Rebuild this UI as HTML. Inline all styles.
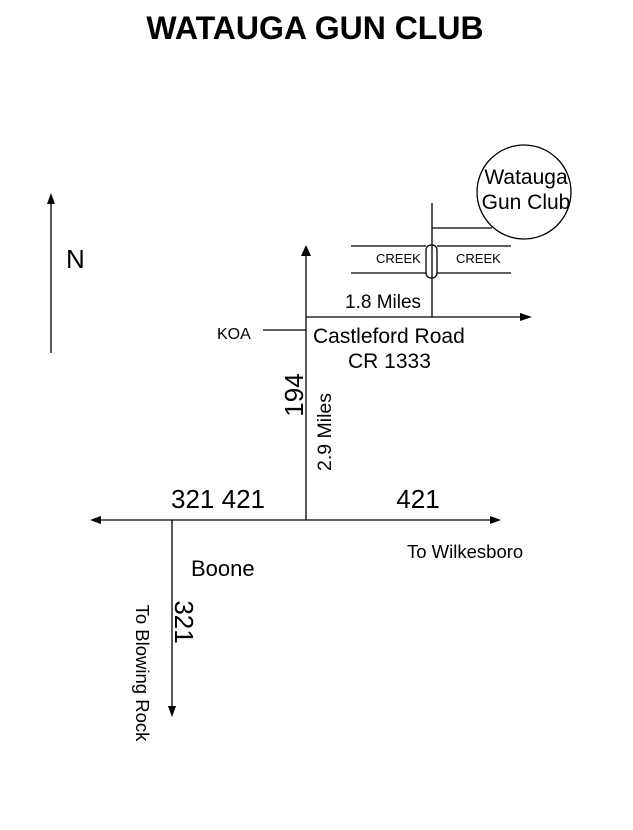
<!DOCTYPE html>
<html><head><style>html,body{margin:0;padding:0;background:#fff}</style></head><body>
<svg width="633" height="825" viewBox="0 0 633 825" xmlns="http://www.w3.org/2000/svg" font-family="Liberation Sans, Arial, sans-serif">
<rect width="633" height="825" fill="#fff"/>
<text x="315" y="39" font-size="32" font-weight="bold" text-anchor="middle">WATAUGA GUN CLUB</text>
<g stroke="#000" stroke-width="1.3" fill="none">
<line x1="51" y1="353" x2="51" y2="200"/>
<line x1="96" y1="520" x2="494" y2="520"/>
<line x1="306" y1="520" x2="306" y2="252"/>
<line x1="306" y1="317" x2="524" y2="317"/>
<line x1="263" y1="330" x2="306" y2="330"/>
<line x1="172" y1="520" x2="172" y2="710"/>
<line x1="432" y1="203" x2="432" y2="317"/>
<line x1="432" y1="228" x2="492" y2="228"/>
<line x1="351" y1="246" x2="426" y2="246"/>
<line x1="437" y1="246" x2="511" y2="246"/>
<line x1="351" y1="273" x2="426" y2="273"/>
<line x1="437" y1="273" x2="511" y2="273"/>
<rect x="426" y="245" width="11" height="33" rx="5"/>
<circle cx="524" cy="192" r="47"/>
</g>
<g fill="#000">
<polygon points="51,193 47,204 55,204"/>
<polygon points="306,245 301,256 311,256"/>
<polygon points="532,317 520,313 520,321"/>
<polygon points="90,520 101,516 101,524"/>
<polygon points="501,520 490,516 490,524"/>
<polygon points="172,717 168,706 176,706"/>
</g>
<text x="66" y="268" font-size="26">N</text>
<g font-size="21">
<text x="526" y="184" text-anchor="middle">Watauga</text>
<text x="526" y="209" text-anchor="middle">Gun Club</text>
<text x="313" y="343">Castleford Road</text>
<text x="348" y="368">CR 1333</text>
</g>
<text x="345" y="308" font-size="19">1.8 Miles</text>
<text x="191" y="576" font-size="22">Boone</text>
<g font-size="13">
<text x="376" y="263">CREEK</text>
<text x="456" y="263">CREEK</text>
</g>
<text x="217" y="339" font-size="16">KOA</text>
<text x="407" y="558" font-size="18.5">To Wilkesboro</text>
<text x="218" y="508" font-size="26" text-anchor="middle">321 421</text>
<text x="418" y="508" font-size="26" text-anchor="middle">421</text>
<text transform="translate(303,395) rotate(-90)" font-size="26" text-anchor="middle">194</text>
<text transform="translate(331,432) rotate(-90)" font-size="19.5" text-anchor="middle">2.9 Miles</text>
<text transform="translate(175,622) rotate(90)" font-size="26" text-anchor="middle">321</text>
<text transform="translate(136,673) rotate(90)" font-size="18.5" text-anchor="middle">To Blowing Rock</text>
</svg>
</body></html>
